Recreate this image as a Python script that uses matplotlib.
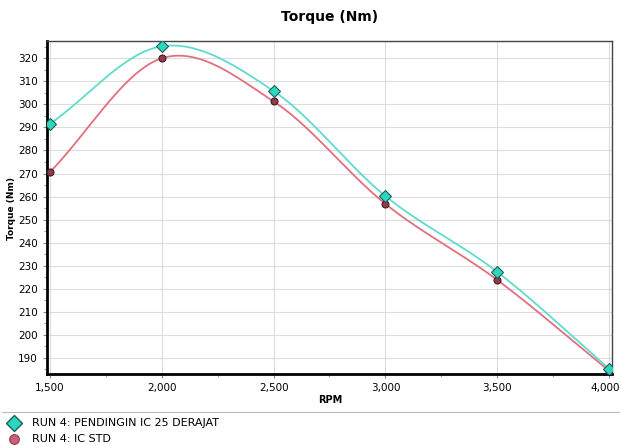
import numpy as np
import matplotlib
matplotlib.use('Agg')
import matplotlib.pyplot as plt
import matplotlib.transforms as mtransforms
from matplotlib.lines import Line2D

# Data
rpm = [1500, 2000, 2500, 3000, 3500, 4000]
torque_ic25 = [291.5, 325.2, 305.8, 260.2, 227.3, 185.3]
torque_std = [270.6, 320.0, 301.3, 256.8, 223.8, 184.4]
label_ic25 = 'RUN 4: PENDINGIN IC 25 DERAJAT'
label_std = 'RUN 4: IC STD'


def smooth_line(x, y, n=60):
    # Catmull-Rom style smoothing, only for drawing the line between points
    x = np.asarray(x, float)
    y = np.asarray(y, float)
    m = np.zeros_like(y)
    m[1:-1] = (y[2:] - y[:-2]) / (x[2:] - x[:-2])
    m[0] = (y[1] - y[0]) / (x[1] - x[0])
    m[-1] = (y[-1] - y[-2]) / (x[-1] - x[-2])
    xs, ys = [], []
    for i in range(len(x) - 1):
        h = x[i + 1] - x[i]
        t = np.linspace(0, 1, n)
        h00 = 2 * t**3 - 3 * t**2 + 1
        h10 = t**3 - 2 * t**2 + t
        h01 = -2 * t**3 + 3 * t**2
        h11 = t**3 - t**2
        xs.append(x[i] + t * h)
        ys.append(h00 * y[i] + h10 * h * m[i] + h01 * y[i + 1] + h11 * h * m[i + 1])
    return np.concatenate(xs), np.concatenate(ys)


fig = plt.figure(figsize=(6.21, 4.45), dpi=100)
ax = fig.add_axes([47 / 621, 1 - 374 / 445, (612 - 47) / 621, (374 - 41) / 445])

cyan = '#5fdccb'
red = '#e0707e'
ax.plot(*smooth_line(rpm, torque_std), color=red, lw=1.3, zorder=3)
ax.plot(*smooth_line(rpm, torque_ic25), color=cyan, lw=1.3, zorder=3)
ax.plot(rpm, torque_std, 'o', ms=5, mfc='#8e3c4c', mec='#4a1822', mew=0.8, zorder=4)
ax.plot(rpm, torque_ic25, 'D', ms=6, mfc='#2ed6c0', mec='#1f5f58', mew=0.8, zorder=5)

ax.set_xlim(1487, 4013)
ax.set_ylim(183, 327.5)
ax.set_xticks(rpm)
ax.set_xticklabels([f'{v:,}' for v in rpm])
ax.set_yticks(np.arange(190, 321, 10))
ax.set_yticks(np.arange(185, 326, 5), minor=True)
ax.set_xticks(np.arange(1500, 4001, 250), minor=True)
ax.grid(True, which='major', color='#dcdcdc', lw=0.8)
ax.tick_params(which='both', direction='out', labelsize=7.5, length=3, color='#888888')
ax.tick_params(which='minor', length=2)

# keep the last x label inside the figure
last = ax.get_xticklabels()[-1]
last.set_transform(last.get_transform() +
                   mtransforms.ScaledTranslation(-4 / 100, 0, fig.dpi_scale_trans))

for s in ['left', 'bottom']:
    ax.spines[s].set_linewidth(2)
    ax.spines[s].set_color('black')
for s in ['top', 'right']:
    ax.spines[s].set_linewidth(1)
    ax.spines[s].set_color('#444444')

fig.text(330 / 621, 1 - 17 / 445, 'Torque (Nm)', ha='center', va='center',
         fontsize=10, fontweight='bold')
fig.text(12 / 621, 1 - 208 / 445, 'Torque (Nm)', ha='center', va='center',
         fontsize=6.5, fontweight='bold', rotation=90)
fig.text(330 / 621, 1 - 400 / 445, 'RPM', ha='center', va='center',
         fontsize=7, fontweight='bold')

# legend area below plot
fig.add_artist(Line2D([2 / 621, 619 / 621], [1 - 412 / 445, 1 - 412 / 445],
                      color='#bbbbbb', lw=0.8))
fig.add_artist(Line2D([14 / 621], [1 - 423 / 445], marker='D', ms=8,
                      mfc='#2ed6c0', mec='#1f5f58', mew=1))
fig.add_artist(Line2D([14 / 621], [1 - 439 / 445], marker='o', ms=7,
                      mfc='#c8607a', mec='#8e3c4c', mew=0.8))
fig.text(32 / 621, 1 - 423 / 445, label_ic25, ha='left', va='center', fontsize=8)
fig.text(32 / 621, 1 - 439 / 445, label_std, ha='left', va='center', fontsize=8)

fig.savefig('out.png', dpi=100)
